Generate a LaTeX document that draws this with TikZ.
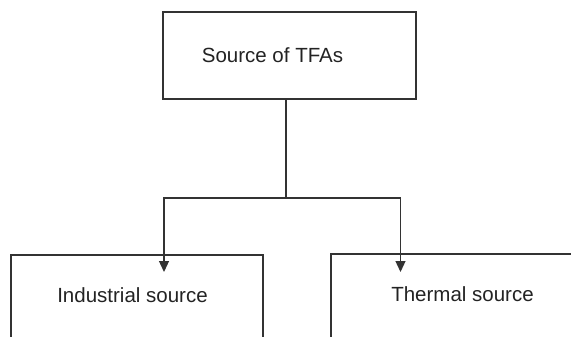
\documentclass[tikz,border=0pt]{standalone}
\usepackage{fontspec}
\setmainfont{Liberation Sans}
\definecolor{linegray}{RGB}{51, 51, 51}
\definecolor{textgray}{RGB}{35, 35, 35}
\usepackage{tikz}
\usetikzlibrary{arrows.meta, positioning, calc}

\begin{document}
\begin{tikzpicture}[x=1pt, y=-1pt,
    box/.style={draw=linegray, line width=1.3pt, inner sep=0pt},
    lbl/.style={font=\fontsize{20.5}{24}\selectfont, text=textgray, inner sep=0pt},
    link/.style={draw=linegray, line width=1.3pt},
    arrow/.style={link, -{Triangle[length=11pt, width=10pt]}}]
  \useasboundingbox (0, 0) rectangle (571, 337);
  \clip (0, 0) rectangle (571, 337);

  % Boxes
  \node[box, minimum width=253pt, minimum height=87pt] (src) at (289.5, 55.5) {};
  \node[box, minimum width=252pt, minimum height=140pt] (ind) at (137, 325) {};
  \node[box, minimum width=280pt, minimum height=140pt] (therm) at (471, 324) {};

  % Labels
  \node[lbl] (srclbl) at (272.5, 55) {Source of TFAs};
  \node[lbl] (indlbl) at (132.5, 295) {Industrial source};
  \node[lbl] (thermlbl) at (462.5, 294) {Thermal source};

  % Connectors
  \coordinate (split) at (286, 198);
  \coordinate (indtip) at (164, 272);
  \coordinate (thermtip) at (400.5, 272);
  \draw[link] (src.south -| split) -- (split);
  \draw[arrow] (split) -| (indtip);
  \draw[arrow] (split) -| (thermtip);
\end{tikzpicture}
\end{document}
